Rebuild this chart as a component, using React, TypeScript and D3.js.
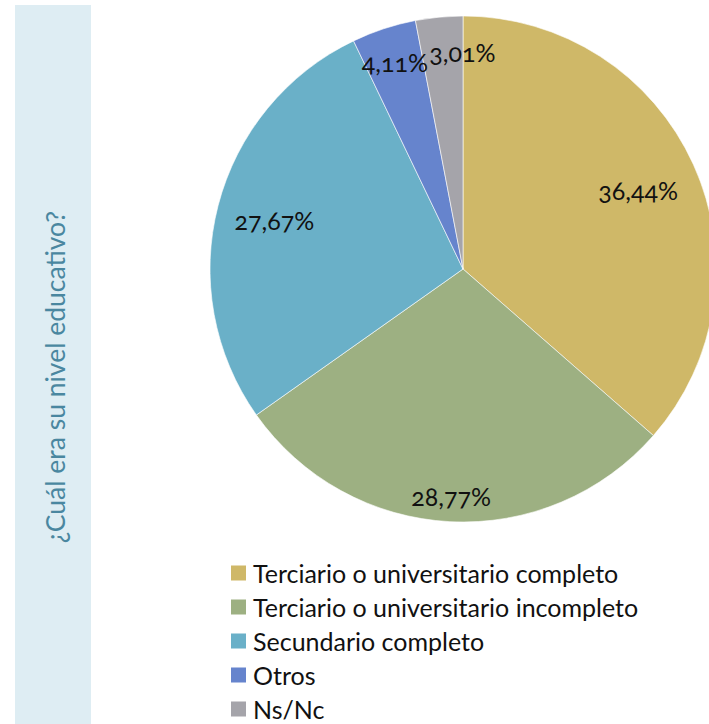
import React from "react";
import * as d3 from "d3";

const categories = [
  "Terciario o universitario completo",
  "Terciario o universitario incompleto",
  "Secundario completo",
  "Otros",
  "Ns/Nc",
];
const values = [36.44, 28.77, 27.67, 4.11, 3.01];
const valueLabels = ["36,44%", "28,77%", "27,67%", "4,11%", "3,01%"];
const colors = ["#cfb868", "#9db082", "#6ab0c8", "#6684cd", "#a5a4aa"];
const title = "¿Cuál era su nivel educativo?";

const W = 709;
const H = 724;
const cx = 463;
const cy = 269;
const R = 253;
// label placement (fraction of radius, extra x nudge) per slice
const labelRadius = [0.76, 0.9, 0.77, 0.86, 0.86];
const labelDx = [0, 0, 0, 0, 20];

export default function App() {
  const pie = d3.pie<number>().sort(null).value((d) => d);
  const arcs = pie(values);
  const arc = d3.arc<d3.PieArcDatum<number>>().innerRadius(0).outerRadius(R);

  const legendY = d3.scalePoint<string>().domain(categories).range([573, 709]);

  const font = "Lato, 'Open Sans', sans-serif";

  return (
    <svg
      width={W}
      height={H}
      style={{ position: "absolute", left: 0, top: 0, background: "#fff" }}
    >
      <rect x={15} y={5} width={76} height={H - 5} fill="#deedf3" />
      <text
        transform={`translate(55,${377}) rotate(-90)`}
        textAnchor="middle"
        dominantBaseline="central"
        fill="#4a87a0"
        fontFamily={font}
        fontSize={26.5}
        fontWeight={400}
      >
        {title}
      </text>
      <g transform={`translate(${cx},${cy})`}>
        {arcs.map((a, i) => (
          <path key={i} d={arc(a) || ""} fill={colors[i]} stroke="#fff" strokeWidth={0.6} />
        ))}
        {arcs.map((a, i) => {
          const mid = (a.startAngle + a.endAngle) / 2;
          const r = R * labelRadius[i];
          const x = Math.sin(mid) * r + labelDx[i];
          const y = -Math.cos(mid) * r;
          return (
            <text
              key={i}
              x={x}
              y={y}
              textAnchor="middle"
              dominantBaseline="central"
              fontFamily={font}
              fontSize={25}
              fill="#111"
              style={{ fontVariantNumeric: "oldstyle-nums" }}
            >
              {valueLabels[i]}
            </text>
          );
        })}
      </g>
      <g>
        {categories.map((c, i) => (
          <g key={c} transform={`translate(231,${legendY(c)})`}>
            <rect x={0} y={-7.5} width={15} height={15} fill={colors[i]} />
            <text
              x={22}
              y={0}
              dominantBaseline="central"
              fontFamily={font}
              fontSize={25}
              fill="#111"
            >
              {c}
            </text>
          </g>
        ))}
      </g>
    </svg>
  );
}
